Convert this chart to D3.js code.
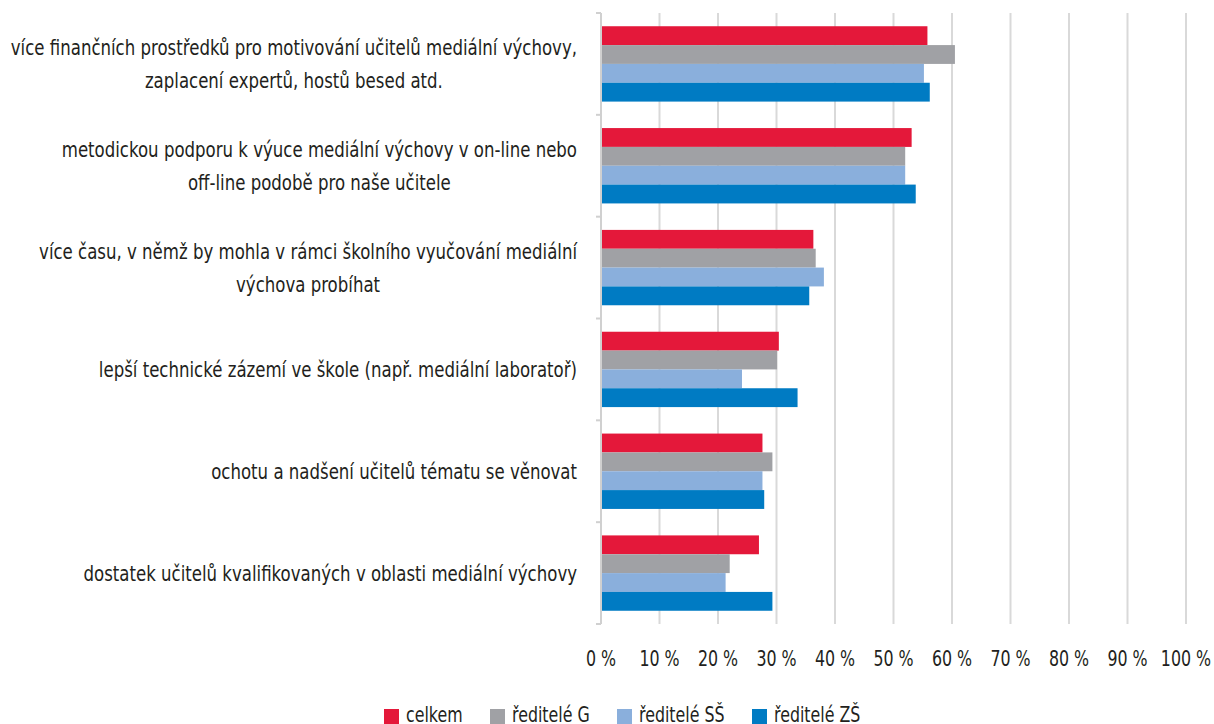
<!DOCTYPE html>
<html>
<head>
<meta charset="utf-8">
<script src="https://cdn.jsdelivr.net/npm/d3@7"></script>
<style>
  body { margin: 0; background: #fff; }
  text { font-family: "DejaVu Sans", sans-serif; fill: #231f20; }
</style>
</head>
<body>
<div id="chart"></div>
<script>
var categories = [
    ["více finančních prostředků pro motivování učitelů mediální výchovy,", "zaplacení expertů, hostů besed atd."],
    ["metodickou podporu k výuce mediální výchovy v on-line nebo", "off-line podobě pro naše učitele"],
    ["více času, v němž by mohla v rámci školního vyučování mediální", "výchova probíhat"],
    ["lepší technické zázemí ve škole (např. mediální laboratoř)"],
    ["ochotu a nadšení učitelů tématu se věnovat"],
    ["dostatek učitelů kvalifikovaných v oblasti mediální výchovy"]
];
var seriesNames = ["celkem", "ředitelé G", "ředitelé SŠ", "ředitelé ZŠ"];
var seriesColors = ["#e4183a", "#a0a1a5", "#8aafdc", "#007bc3"];
var celkem = [55.8, 53.1, 36.3, 30.4, 27.6, 27.0];
var reditelG = [60.5, 52.0, 36.7, 30.1, 29.3, 22.0];
var reditelSS = [55.2, 52.0, 38.1, 24.1, 27.6, 21.3];
var reditelZS = [56.2, 53.8, 35.6, 33.6, 27.9, 29.3];
var tickValues = [0, 10, 20, 30, 40, 50, 60, 70, 80, 90, 100];

(function () {
    var series = [celkem, reditelG, reditelSS, reditelZS];

    var width = 1214,
        height = 724,
        plotLeft = 601,
        plotRight = 1186,
        plotTop = 13,
        plotBottom = 624;

    // the original font is a condensed one, so squeeze DejaVu horizontally
    var labelSx = 0.79,
        tickSx = 0.72,
        legendSx = 0.72;

    var svg = d3.select("#chart").append("svg")
        .attr("width", width)
        .attr("height", height);

    var x = d3.scaleLinear().domain([0, 100]).range([plotLeft, plotRight]);

    var y = d3.scaleBand()
        .domain(d3.range(categories.length))
        .range([plotTop, plotBottom])
        .paddingInner(0.26)
        .paddingOuter(0.13);

    var ySub = d3.scaleBand()
        .domain(d3.range(series.length))
        .range([0, y.bandwidth()]);

    // gridlines
    svg.append("g").selectAll("line")
        .data(tickValues.slice(1))
        .enter().append("line")
        .attr("x1", function (d) { return x(d); })
        .attr("x2", function (d) { return x(d); })
        .attr("y1", plotTop)
        .attr("y2", plotBottom)
        .attr("stroke", "#d9d9d9")
        .attr("stroke-width", 2);

    // tick labels
    svg.append("g").selectAll("g")
        .data(tickValues)
        .enter().append("g")
        .attr("transform", function (d) { return "translate(" + x(d) + ",666) scale(" + tickSx + ",1)"; })
        .append("text")
        .attr("text-anchor", "middle")
        .style("font-size", "22px")
        .text(function (d) { return d + " %"; });

    // bars
    var groups = svg.append("g").selectAll("g")
        .data(categories)
        .enter().append("g")
        .attr("transform", function (d, i) { return "translate(0," + y(i) + ")"; });

    groups.each(function (d, i) {
        d3.select(this).selectAll("rect")
            .data(series.map(function (s, k) { return { k: k, v: s[i] }; }))
            .enter().append("rect")
            .attr("x", x(0))
            .attr("y", function (b) { return ySub(b.k); })
            .attr("width", function (b) { return x(b.v) - x(0); })
            .attr("height", ySub.bandwidth())
            .attr("fill", function (b) { return seriesColors[b.k]; });
    });

    // category axis
    var axisG = svg.append("g").attr("stroke", "#d0d0d0").attr("stroke-width", 2);
    axisG.append("line")
        .attr("x1", plotLeft).attr("x2", plotLeft)
        .attr("y1", plotTop).attr("y2", plotBottom);
    axisG.selectAll("line.tick")
        .data(d3.range(categories.length + 1))
        .enter().append("line")
        .attr("class", "tick")
        .attr("x1", plotLeft - 5).attr("x2", plotLeft)
        .attr("y1", function (i) { return plotTop + i * y.step(); })
        .attr("y2", function (i) { return plotTop + i * y.step(); });

    // category labels
    var lineH = 33;
    var labels = svg.append("g").selectAll("g")
        .data(categories)
        .enter().append("g")
        .attr("transform", "translate(577,0) scale(" + labelSx + ",1)")
        .append("text")
        .attr("text-anchor", "middle")
        .style("font-size", "21px");

    labels.each(function (lines, i) {
        var self = d3.select(this);
        var cy = y(i) + y.bandwidth() / 2;
        lines.forEach(function (l, j) {
            self.append("tspan")
                .attr("y", cy + (j - (lines.length - 1) / 2) * lineH + 7.5)
                .text(l);
        });
        var w = d3.max(self.selectAll("tspan").nodes(), function (n) { return n.getComputedTextLength(); });
        self.selectAll("tspan").attr("x", -w / 2);
    });

    // legend
    var legendX = [384, 490, 617, 752];
    var legend = svg.append("g").selectAll("g")
        .data(seriesNames)
        .enter().append("g")
        .attr("transform", function (d, i) { return "translate(" + legendX[i] + ",709)"; });
    legend.append("rect")
        .attr("width", 15).attr("height", 15)
        .attr("fill", function (d, i) { return seriesColors[i]; });
    legend.append("g")
        .attr("transform", "translate(22,13) scale(" + legendSx + ",1)")
        .append("text")
        .style("font-size", "22px")
        .text(function (d) { return d; });
})();
</script>
</body>
</html>
